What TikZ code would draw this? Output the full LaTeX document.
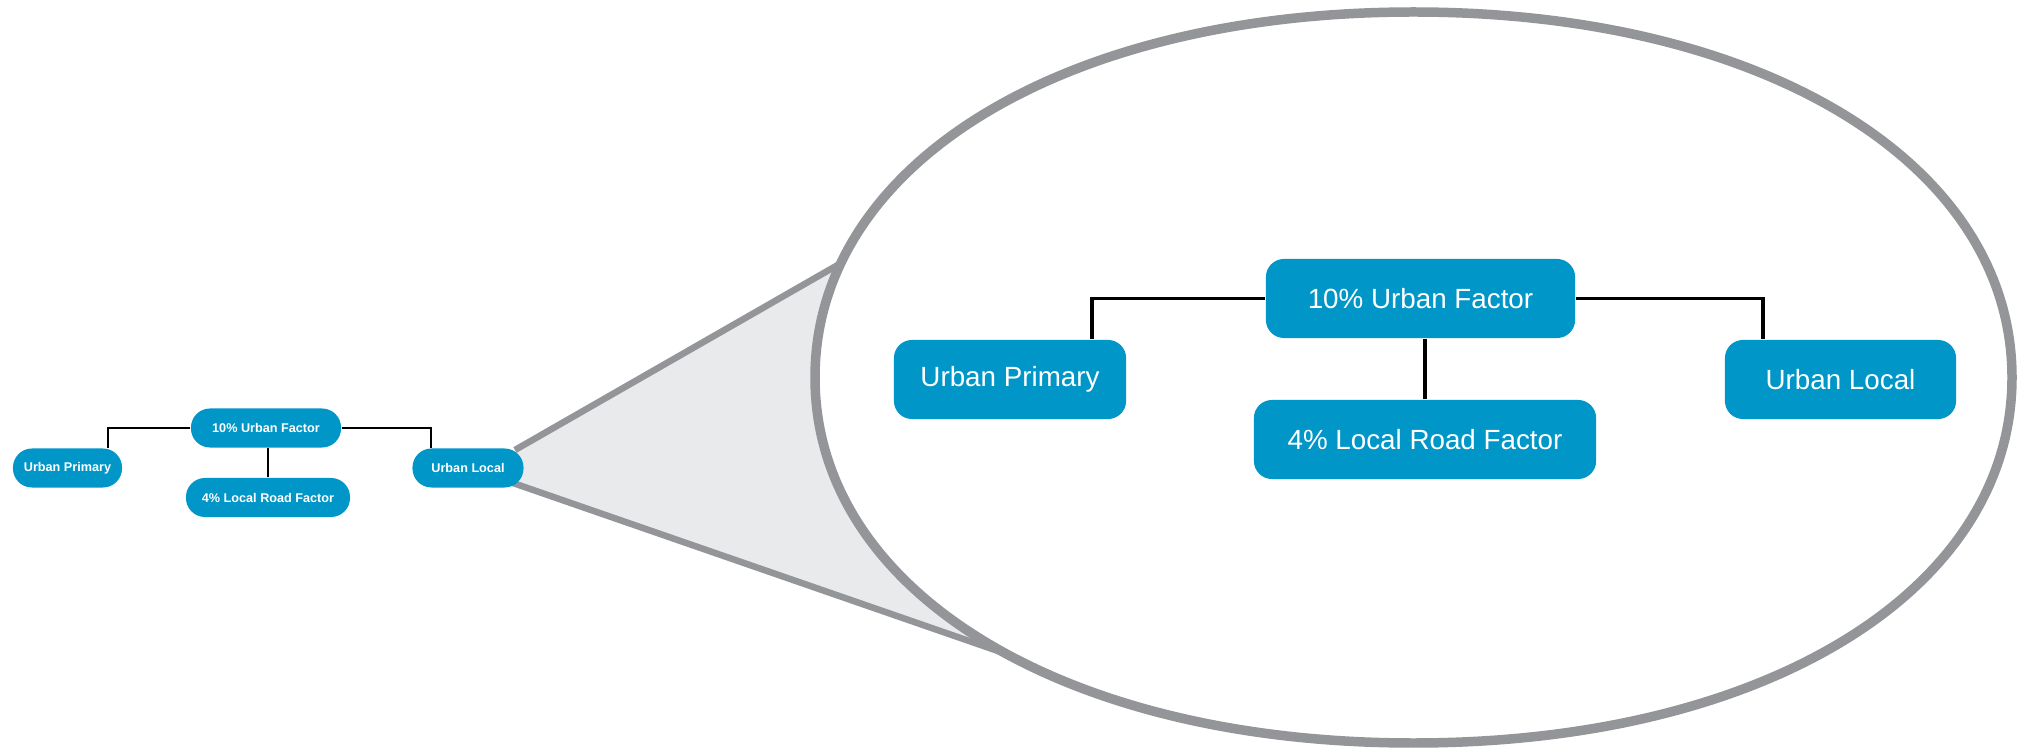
\documentclass[tikz,border=0pt]{standalone}
\usepackage{fontspec}
\setmainfont{Liberation Sans}
\usetikzlibrary{positioning}
\definecolor{boxblue}{RGB}{0,150,200}
\definecolor{lensgray}{RGB}{147,149,152}
\definecolor{conefill}{RGB}{233,234,236}

\begin{document}
\begin{tikzpicture}[x=0.01cm,y=-0.01cm,
  bigbox/.style={fill=boxblue,text=white,rounded corners=0.18cm,inner sep=0pt,
    minimum height=0.79cm,font=\fontsize{7.9}{9}\selectfont},
  smallbox/.style={fill=boxblue,text=white,rounded corners=0.19cm,inner sep=0pt,
    minimum height=0.39cm,font=\fontsize{3.6}{4.3}\selectfont\bfseries},
  bigline/.style={draw=black,line width=0.95pt},
  smallline/.style={draw=black,line width=0.45pt} ]
  \useasboundingbox (0,0) rectangle (2018,749);
  % zoom cone and lens
  \coordinate (tipa) at (515,450);
  \coordinate (tipb) at (513,483);
  \coordinate (conetop) at (850,258);
  \coordinate (conebot) at (1099,686);
  \fill[conefill] (tipa) -- (conetop) -- (1100,377) -- (conebot) -- (tipb) -- cycle;
  \draw[lensgray,line width=1.85pt] (tipa) -- (conetop) (tipb) -- (conebot);
  \draw[lensgray,line width=2.7pt,fill=white]
    (2012,377.5) .. controls (2012,591.3) and (1763.6,743) .. (1413.5,743)
    .. controls (1063.4,743) and (815,591.3) .. (815,377.5)
    .. controls (815,163.7) and (1063.4,12) .. (1413.5,12)
    .. controls (1763.6,12) and (2012,163.7) .. cycle;
  % small tree
  \node[smallbox,minimum width=1.5cm] (suf) at (266,428) {10\% Urban Factor};
  \node[smallbox,minimum width=1.09cm] (sup) at (67.5,468) {Urban Primary};
  \node[smallbox,minimum width=1.64cm] (slr) at (268,497.5) {4\% Local Road Factor};
  \node[smallbox,minimum width=1.11cm] (sul) at (468,468) {Urban Local};
  \path[smallline]
  (suf.west) -| ([xshift=0.405cm]sup.north)
  (suf.east) -| ([xshift=-0.37cm]sul.north)
  (slr.north) -- (slr.north |- suf.south);
  % large tree
  \node[bigbox,minimum width=3.09cm] (buf) at (1420.5,298.5) {10\% Urban Factor};
  \node[bigbox,minimum width=2.32cm] (bup) at (1010,379.5) {Urban Primary};
  \node[bigbox,minimum width=3.42cm] (blr) at (1425,439.5) {4\% Local Road Factor};
  \node[bigbox,minimum width=2.31cm] (bul) at (1840.5,379.5) {Urban Local};
  \path[bigline]
  (buf.west) -| ([xshift=0.82cm]bup.north)
  (buf.east) -| ([xshift=-0.775cm]bul.north)
  (blr.north) -- (blr.north |- buf.south);
\end{tikzpicture}
\end{document}
